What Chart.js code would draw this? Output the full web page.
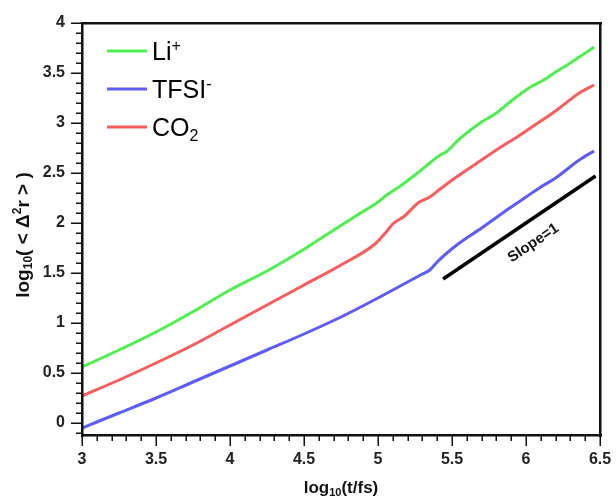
<!DOCTYPE html>
<html lang="en">
<head>
  <meta charset="UTF-8">
  <title>MSD log-log plot</title>
  <script src="https://cdn.jsdelivr.net/npm/chart.js"></script>
  <style>
    html, body { margin: 0; padding: 0; background: #fff; }
  </style>
</head>
<body>
  <canvas id="msdChart" width="616" height="500"></canvas>

  <script>
    // data (log10 t/fs vs log10 <Δ²r>)
    const liX = [3.0, 3.25, 3.5, 3.77, 4.0, 4.25, 4.47, 4.68, 4.85, 5.0, 5.05, 5.09, 5.16, 5.25, 5.35, 5.42, 5.46, 5.55, 5.69, 5.8, 5.9, 6.03, 6.12, 6.2, 6.3, 6.36, 6.46];
    const liY = [0.56, 0.73, 0.91, 1.13, 1.33, 1.52, 1.71, 1.91, 2.07, 2.21, 2.27, 2.31, 2.38, 2.48, 2.60, 2.68, 2.71, 2.84, 3.00, 3.10, 3.22, 3.36, 3.43, 3.51, 3.60, 3.66, 3.76];

    const tfsiX = [3.0, 3.25, 3.5, 3.75, 4.0, 4.25, 4.5, 4.75, 5.0, 5.15, 5.3, 5.35, 5.4, 5.45, 5.55, 5.7, 5.89, 6.0, 6.1, 6.2, 6.36, 6.46];
    const tfsiY = [-0.05, 0.10, 0.25, 0.41, 0.57, 0.73, 0.89, 1.06, 1.25, 1.37, 1.49, 1.53, 1.61, 1.68, 1.80, 1.95, 2.15, 2.26, 2.36, 2.45, 2.63, 2.72];

    const co2X = [3.0, 3.25, 3.5, 3.75, 4.0, 4.25, 4.5, 4.75, 4.98, 5.05, 5.1, 5.18, 5.27, 5.35, 5.42, 5.53, 5.65, 5.82, 5.95, 6.1, 6.2, 6.36, 6.46];
    const co2Y = [0.27, 0.43, 0.60, 0.78, 0.98, 1.18, 1.38, 1.58, 1.79, 1.90, 1.99, 2.07, 2.20, 2.26, 2.34, 2.46, 2.58, 2.75, 2.87, 3.02, 3.12, 3.30, 3.38];

    const slopeX = [5.44, 6.47];
    const slopeY = [1.44, 2.47];

    const xTickValues = [3, 3.5, 4, 4.5, 5, 5.5, 6, 6.5];
    const yTickValues = [0, 0.5, 1, 1.5, 2, 2.5, 3, 3.5, 4];

    const seriesNames = ['Li', 'TFSI', 'CO'];
    const seriesScripts = ['+', '-', '2'];
    const slopeLabel = 'Slope=1';

    const FONT = '"Liberation Sans", Arial, Helvetica, sans-serif';
    const colors = ['#50ef50', '#5c5cf6', '#fa5c5c'];
    const axisColor = '#111111';

    function toPoints(xs, ys) {
      return xs.map((x, i) => ({ x: x, y: ys[i] }));
    }

    // draw text made of pieces (for sub/superscripts)
    function drawRich(ctx, parts, x, y, align) {
      let total = 0;
      parts.forEach(p => {
        ctx.font = p.weight + ' ' + p.size + 'px ' + FONT;
        total += ctx.measureText(p.text).width;
      });
      let cx = align === 'center' ? x - total / 2 : x;
      ctx.textAlign = 'left';
      ctx.textBaseline = 'alphabetic';
      parts.forEach(p => {
        ctx.font = p.weight + ' ' + p.size + 'px ' + FONT;
        ctx.fillText(p.text, cx, y + p.dy);
        cx += ctx.measureText(p.text).width;
      });
    }

    const decorations = {
      id: 'decorations',
      afterDraw(chart) {
        const { ctx, chartArea: a, scales } = chart;
        const xs = scales.x, ys = scales.y;
        const L = Math.round(a.left), R = Math.round(a.right);
        const T = Math.round(a.top), B = Math.round(a.bottom);
        ctx.save();

        // box round the plot area
        ctx.fillStyle = axisColor;
        ctx.fillRect(L - 1, T - 1, R - L + 3, 2.5);
        ctx.fillRect(L - 1, B - 1, R - L + 3, 2.5);
        ctx.fillRect(L - 1, T - 1, 2.5, B - T + 3);
        ctx.fillRect(R - 1, T - 1, 2.5, B - T + 3);

        // ticks, outward: long at labelled values, short in between
        for (let i = 30; i <= 65; i++) {
          const px = Math.round(xs.getPixelForValue(i / 10));
          const len = i % 5 === 0 ? 11 : 6;
          ctx.fillRect(px - 0.5, B, 1.5, len);
        }
        for (let i = -1; i <= 40; i++) {
          const py = Math.round(ys.getPixelForValue(i / 10));
          const len = i % 5 === 0 ? 11 : 6;
          ctx.fillRect(L - len, py - 0.5, len, 1.5);
        }

        ctx.fillStyle = '#111';
        // x title
        drawRich(ctx, [
          { text: 'log', size: 17, dy: 0, weight: 'bold' },
          { text: '10', size: 11, dy: 3, weight: 'bold' },
          { text: '(t/fs)', size: 17, dy: 0, weight: 'bold' }
        ], (a.left + a.right) / 2, 493, 'center');

        // y title
        ctx.save();
        ctx.translate(29, 235);
        ctx.rotate(-Math.PI / 2);
        drawRich(ctx, [
          { text: 'log', size: 19, dy: 0, weight: 'bold' },
          { text: '10', size: 12, dy: 3, weight: 'bold' },
          { text: '( < \u0394', size: 19, dy: 0, weight: 'bold' },
          { text: '2', size: 12, dy: -8, weight: 'bold' },
          { text: 'r > )', size: 19, dy: 0, weight: 'bold' }
        ], 0, 0, 'center');
        ctx.restore();

        // legend
        const rows = [51, 89, 127];
        chart.data.datasets.slice(0, 3).forEach((ds, i) => {
          ctx.strokeStyle = ds.borderColor;
          ctx.lineWidth = 3;
          ctx.beginPath();
          ctx.moveTo(107, rows[i]);
          ctx.lineTo(147, rows[i]);
          ctx.stroke();
          ctx.fillStyle = '#000';
          const sub = i === 2;
          drawRich(ctx, [
            { text: seriesNames[i], size: 25, dy: 0, weight: 'normal' },
            { text: seriesScripts[i], size: 16, dy: sub ? 5 : -9, weight: 'normal' }
          ], 152, rows[i] + 9, 'left');
        });

        // slope label, rotated along the reference line
        const p1x = xs.getPixelForValue(slopeX[0]), p1y = ys.getPixelForValue(slopeY[0]);
        const p2x = xs.getPixelForValue(slopeX[1]), p2y = ys.getPixelForValue(slopeY[1]);
        const ang = Math.atan2(p2y - p1y, p2x - p1x);
        ctx.save();
        ctx.translate(xs.getPixelForValue(6.05), ys.getPixelForValue(1.8));
        ctx.rotate(ang);
        ctx.fillStyle = '#111';
        ctx.font = 'bold 15px ' + FONT;
        ctx.textAlign = 'center';
        ctx.textBaseline = 'middle';
        ctx.fillText(slopeLabel, 0, 0);
        ctx.restore();

        ctx.restore();
      }
    };

    const lineStyle = (color) => ({
      borderColor: color,
      backgroundColor: color,
      borderWidth: 3,
      pointRadius: 0,
      fill: false,
      cubicInterpolationMode: 'monotone'
    });

    new Chart(document.getElementById('msdChart'), {
      type: 'line',
      data: {
        datasets: [
          Object.assign({ label: 'Li+', data: toPoints(liX, liY) }, lineStyle(colors[0])),
          Object.assign({ label: 'TFSI-', data: toPoints(tfsiX, tfsiY) }, lineStyle(colors[1])),
          Object.assign({ label: 'CO2', data: toPoints(co2X, co2Y) }, lineStyle(colors[2])),
          {
            label: 'slope',
            data: toPoints(slopeX, slopeY),
            borderColor: '#000',
            borderWidth: 3.5,
            pointRadius: 0,
            fill: false
          }
        ]
      },
      options: {
        responsive: false,
        devicePixelRatio: 1,
        animation: false,
        layout: { padding: { left: 0, right: 16, top: 23, bottom: 0 } },
        plugins: {
          legend: { display: false },
          tooltip: { enabled: false }
        },
        scales: {
          x: {
            type: 'linear',
            min: 3,
            max: 6.5,
            grid: { display: false, drawTicks: false },
            border: { display: true, color: axisColor, width: 2 },
            afterBuildTicks: (scale) => { scale.ticks = xTickValues.map(v => ({ value: v })); },
            afterFit: (scale) => { scale.height = 65; scale.paddingLeft = 0; scale.paddingRight = 0; },
            ticks: {
              padding: 15,
              color: '#222',
              font: { family: FONT, size: 16, weight: 'bold' },
              maxRotation: 0,
              callback: (v) => String(v)
            }
          },
          y: {
            type: 'linear',
            min: -0.12,
            max: 4,
            grid: { display: false, drawTicks: false },
            border: { display: true, color: axisColor, width: 2 },
            afterBuildTicks: (scale) => { scale.ticks = yTickValues.map(v => ({ value: v })); },
            afterFit: (scale) => { scale.width = 82; scale.paddingTop = 0; scale.paddingBottom = 0; },
            ticks: {
              padding: 17,
              color: '#222',
              font: { family: FONT, size: 16, weight: 'bold' },
              callback: (v) => String(v)
            }
          }
        }
      },
      plugins: [decorations]
    });
  </script>
</body>
</html>
